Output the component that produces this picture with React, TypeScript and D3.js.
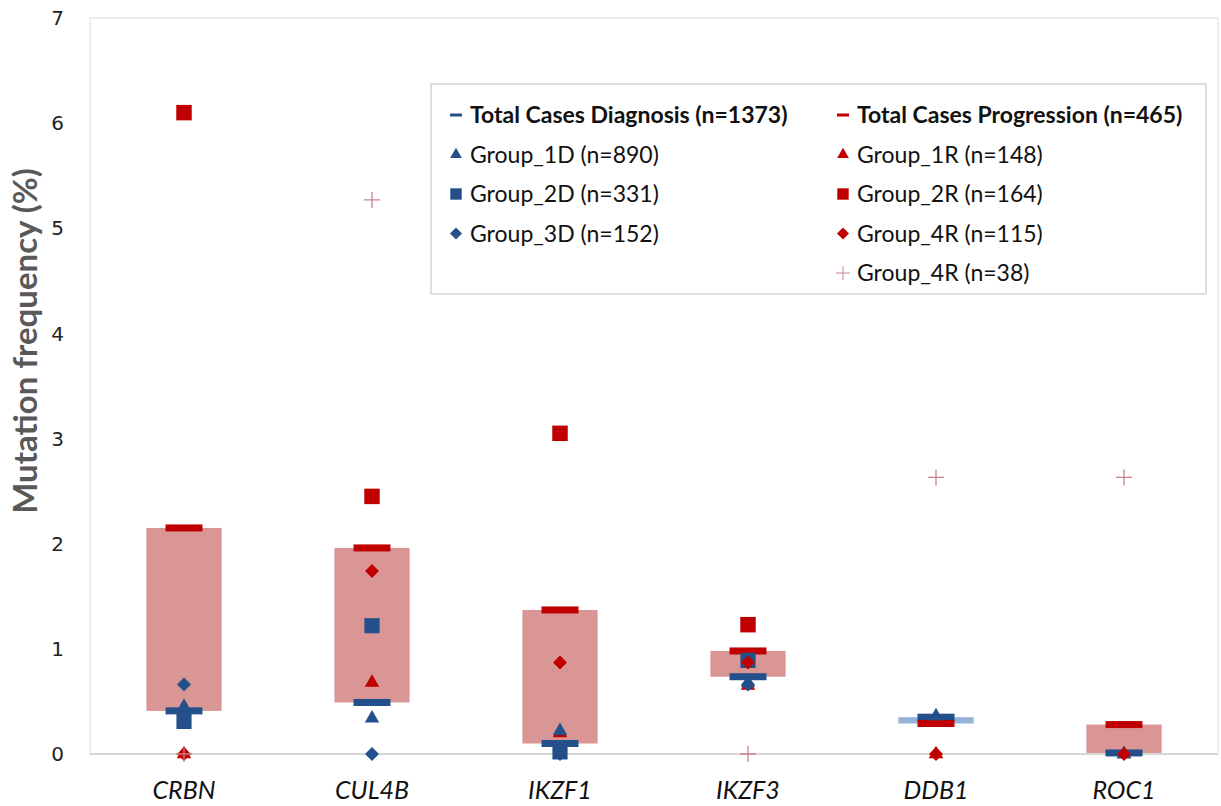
import * as d3 from "d3";

const categories = ["CRBN", "CUL4B", "IKZF1", "IKZF3", "DDB1", "ROC1"];
const totalDiagnosis = [0.41, 0.49, 0.1, 0.735, 0.35, 0.01];
const totalProgression = [2.15, 1.96, 1.37, 0.98, 0.29, 0.28];
const group1D = [0.45, 0.34, 0.22, 0.68, 0.36, 0];
const group2D = [0.31, 1.22, 0.02, 0.89, null, null];
const group3D = [0.66, 0, 0, 0.66, null, null];
const group1R = [0, 0.68, 0.2, 0.65, 0, 0];
const group2R = [6.1, 2.45, 3.05, 1.23, null, null];
const group4R = [0, 1.74, 0.87, 0.87, 0, 0];
const group4R38 = [0, 5.27, null, 0, 2.63, 2.63];
const yTicks = [0, 1, 2, 3, 4, 5, 6, 7];

const W = 1221;
const H = 806;
const left = 90;
const right = 1218;
const top = 18;
const bottom = 754;

const BLUE = "#23508a";
const RED = "#c00000";
const PINK = "#d99694";
const LIGHTBLUE = "#95b3d7";
const CROSS = "#c9848c";

const x = d3.scaleBand().domain(categories).range([left, right]);
const y = d3.scaleLinear().domain([0, 7]).range([bottom, top]);

const tri = (s) => d3.symbol(d3.symbolTriangle, s)();
const sq = (s) => d3.symbol(d3.symbolSquare, s)();
const dia = (r) => `M0,${-r}L${r},0L0,${r}L${-r},0Z`;
const cross = (r) => `M${-r},0H${r}M0,${-r}V${r}`;

function Markers({ values, path, fill, stroke }) {
  return (
    <g>
      {values.map((v, i) =>
        v == null ? null : (
          <path
            key={i}
            d={path}
            transform={`translate(${x(categories[i]) + x.bandwidth() / 2},${y(v)})`}
            fill={fill || "none"}
            stroke={stroke || "none"}
            strokeWidth={1.3}
          />
        )
      )}
    </g>
  );
}

const legendRows = [
  { col: 0, row: 0, kind: "dash", color: BLUE, text: "Total Cases Diagnosis (n=1373)", bold: true },
  { col: 1, row: 0, kind: "dash", color: RED, text: "Total Cases Progression (n=465)", bold: true },
  { col: 0, row: 1, kind: "tri", color: BLUE, text: "Group_1D (n=890)" },
  { col: 1, row: 1, kind: "tri", color: RED, text: "Group_1R (n=148)" },
  { col: 0, row: 2, kind: "sq", color: BLUE, text: "Group_2D  (n=331)" },
  { col: 1, row: 2, kind: "sq", color: RED, text: "Group_2R (n=164)" },
  { col: 0, row: 3, kind: "dia", color: BLUE, text: "Group_3D (n=152)" },
  { col: 1, row: 3, kind: "dia", color: RED, text: "Group_4R (n=115)" },
  { col: 1, row: 4, kind: "cross", color: CROSS, text: "Group_4R (n=38)" },
];

function LegendMark({ kind, color }) {
  if (kind === "dash") return <rect x={-6} y={-1.5} width={12} height={3} fill={color} />;
  if (kind === "tri") return <path d={tri(60)} fill={color} />;
  if (kind === "sq") return <path d={sq(130)} fill={color} />;
  if (kind === "dia") return <path d={dia(6)} fill={color} />;
  return <path d={cross(7)} stroke={color} strokeWidth={1} fill="none" />;
}

export default function App() {
  const bw = x.bandwidth();
  const boxW = bw * 0.4;
  const dashW = 37;
  const dashH = 7;
  const font = "Lato, 'Open Sans', sans-serif";
  return (
    <svg width={W} height={H} style={{ position: "absolute", left: 0, top: 0 }} fontFamily={font}>
      <rect x={0} y={0} width={W} height={H} fill="#fff" />
      <rect x={left} y={top} width={right - left} height={bottom - top} fill="none" stroke="#d9d9d9" strokeWidth={1} />
      <line x1={left} x2={right} y1={bottom} y2={bottom} stroke="#d0d0d0" strokeWidth={1.5} />

      {yTicks.map((t) => (
        <text key={t} x={64} y={y(t)} dy="0.36em" textAnchor="end" fontSize={20} fill="#222" fontFamily="'DejaVu Sans', sans-serif">
          {t}
        </text>
      ))}
      <text
        transform={`translate(37,341) rotate(-90)`}
        textAnchor="middle"
        fontSize={33}
        fontWeight="bold"
        fill="#595959"
      >
        Mutation frequency (%)
      </text>

      {categories.map((c) => (
        <text key={c} x={x(c) + bw / 2} y={799} textAnchor="middle" fontSize={25} fontStyle="italic" fill="#111">
          {c}
        </text>
      ))}

      {categories.map((c, i) => {
        const a = totalDiagnosis[i];
        const b = totalProgression[i];
        const y0 = y(Math.max(a, b));
        const y1 = y(Math.min(a, b));
        const h = Math.max(y1 - y0, 4);
        return (
          <rect
            key={c}
            x={x(c) + bw / 2 - boxW / 2}
            y={(y0 + y1) / 2 - h / 2}
            width={boxW}
            height={h}
            fill={b >= a ? PINK : LIGHTBLUE}
          />
        );
      })}

      {categories.map((c, i) => (
        <g key={c}>
          <rect x={x(c) + bw / 2 - dashW / 2} y={y(totalDiagnosis[i]) - dashH / 2} width={dashW} height={dashH} fill={BLUE} />
          <rect x={x(c) + bw / 2 - dashW / 2} y={y(totalProgression[i]) - dashH / 2} width={dashW} height={dashH} fill={RED} />
        </g>
      ))}

      <Markers values={group1R} path={tri(90)} fill={RED} />
      <Markers values={group1D} path={tri(90)} fill={BLUE} />
      <Markers values={group2D} path={sq(230)} fill={BLUE} />
      <Markers values={group3D} path={dia(7)} fill={BLUE} />
      <Markers values={group2R} path={sq(240)} fill={RED} />
      <Markers values={group4R} path={dia(7)} fill={RED} />
      <Markers values={group4R38} path={cross(8)} stroke={CROSS} />

      <rect x={431} y={84} width={775} height={210} fill="#fff" stroke="#bfbfbf" strokeWidth={1} />
      {legendRows.map((r, i) => {
        const lx = r.col === 0 ? 456 : 843;
        const ly = 115 + r.row * 39.5;
        return (
          <g key={i} transform={`translate(${lx},${ly})`}>
            <LegendMark kind={r.kind} color={r.color} />
            <text x={14} dy="0.35em" fontSize={23} fontWeight={r.bold ? "bold" : "normal"} fill="#111">
              {r.text}
            </text>
          </g>
        );
      })}
    </svg>
  );
}
